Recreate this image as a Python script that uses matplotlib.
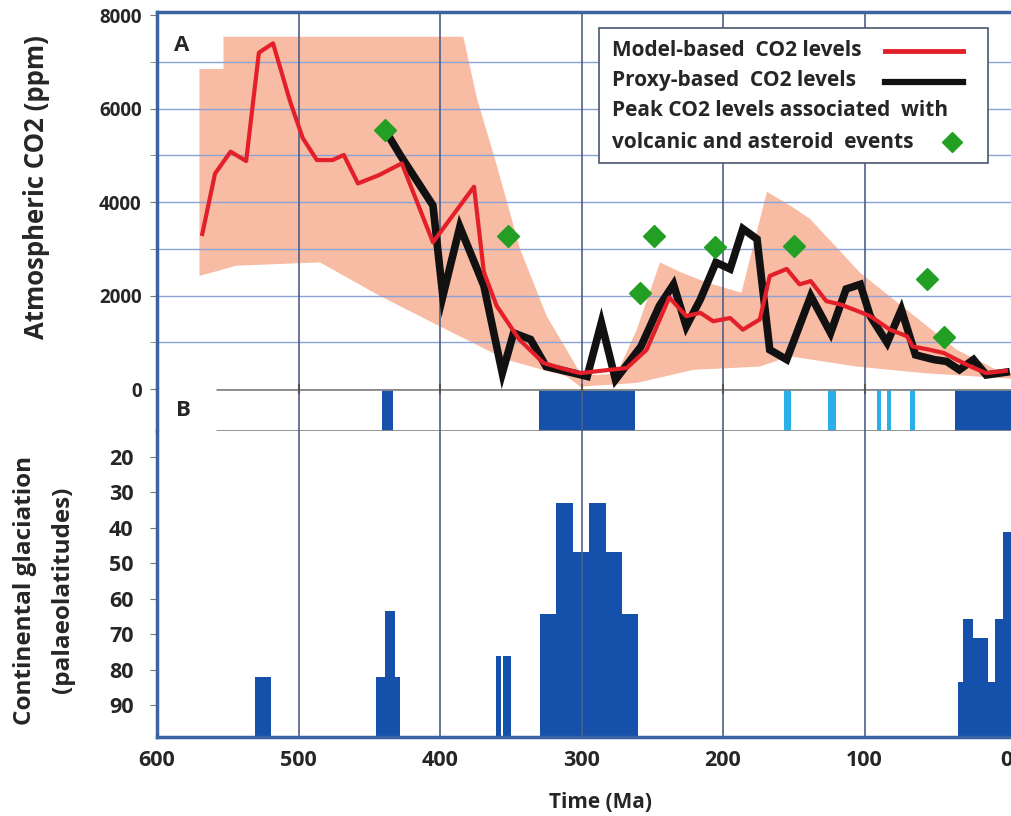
import numpy as np
import matplotlib.pyplot as plt
from matplotlib.patches import Rectangle
from matplotlib.lines import Line2D

plt.rcParams['font.family'] = ['Open Sans', 'DejaVu Sans']
plt.rcParams['font.weight'] = 'bold'

# model-based CO2 (red line)
model_age = [568, 559, 548, 537, 528, 518, 506, 497, 487, 476, 468, 458, 443, 427,
             405, 376, 369, 360, 344, 327, 315, 301, 292, 268, 254, 238, 226, 216,
             207, 195, 186, 174, 167, 155, 146, 138, 127, 117, 105, 96, 82, 70, 66,
             54, 44, 35, 25, 14, 0]
model_co2 = [3320, 4610, 5080, 4880, 7200, 7400, 6160, 5370, 4900, 4900, 5010, 4400, 4580, 4830,
             3140, 4330, 2500, 1780, 1060, 560, 450, 340, 370, 450, 840, 1960, 1560, 1630,
             1450, 1520, 1270, 1490, 2420, 2570, 2240, 2310, 1880, 1810, 1670, 1560, 1270, 1130, 910,
             840, 770, 630, 480, 340, 390]

# proxy-based CO2 (black line)
proxy_age = [439, 428, 405, 398, 386, 369, 356, 348, 336, 325, 315, 296, 286, 276, 258,
             245, 235, 226, 216, 205, 195, 186, 176, 167, 155, 138, 124, 113, 103, 96,
             84, 74, 64, 51, 42, 33, 23, 14, 0]
proxy_co2 = [5550, 5000, 3930, 1990, 3470, 2210, 340, 1200, 1060, 480, 410, 270, 1420, 200, 910,
             1780, 2240, 1340, 1920, 2710, 2570, 3430, 3210, 840, 630, 1990, 1200, 2140, 2240, 1560,
             990, 1700, 730, 630, 590, 410, 630, 300, 360]

# peak CO2 events (green diamonds)
event_age = [439, 352, 259, 249, 206, 150, 56, 44]
event_co2 = [5550, 3285, 2060, 3285, 3030, 3070, 2350, 1110]

# uncertainty envelope
env_up_age = [570, 553, 553, 383.5, 374, 360, 343.5, 324.6, 310.5, 301, 290, 275, 261, 244.5,
              230, 211.5, 187, 169, 152.7, 138.5, 103.2, 34.8, 6.6, -4.5]
env_up_co2 = [6850, 6850, 7540, 7540, 6230, 4800, 3000, 1560, 840, 340, 300, 330, 1270, 2710,
              2500, 2280, 2060, 4220, 3930, 3640, 2490, 840, 410, 330]
env_lo_age = [570, 543.7, 484.8, 442.4, 400, 352.9, 310.5, 301, 261, 221, 174, 152.7, 105.5,
              58.4, 6.6, -4.5]
env_lo_co2 = [2420, 2640, 2710, 1990, 1340, 625, 270, 50, 130, 410, 480, 700, 480, 340, 240, 220]

# panel B strip: glacial intervals
strip_dark_start = [441, 330, 36]
strip_dark_end = [433, 262, -5]
strip_light_start = [157, 126, 91.5, 84.4, 68]
strip_light_end = [152, 120, 88.7, 81.6, 64.5]

# continental glaciation extent (palaeolatitude reached)
glac_start = [530.5, 445, 439, 432, 360.5, 355.3, 329.3, 318, 305.7, 295, 282.8, 271.4,
              34.3, 30.3, 23.2, 12.6, 7.8, 2.3]
glac_end = [519.6, 439, 432, 428, 357.2, 349.9, 318, 305.7, 295, 282.8, 271.4, 260.3,
            30.3, 23.2, 12.6, 7.8, 2.3, -5]
glac_lat = [82, 82, 63.5, 82, 76.2, 76.2, 64.2, 33, 46.8, 33, 46.8, 64.2,
            83.4, 65.8, 71.2, 83.4, 65.8, 41.1]

x_ticks = [600, 500, 400, 300, 200, 100, 0]
grid_ages = [500, 400, 300, 200, 100]
lat_ticks = [20, 30, 40, 50, 60, 70, 80, 90]

spine_col = '#3b64a3'
grid_col = '#4f5f86'
hgrid_col = '#8aa3d4'
bar_col = '#1551aa'
light_col = '#2ab0e8'
txt_col = '#262626'
xlim = (600, -4.2)

fig = plt.figure(figsize=(10.12, 8.16), dpi=100)
L, W = 157 / 1012, 855 / 1012
axA = fig.add_axes([L, 1 - 389 / 816, W, 377 / 816])
axS = fig.add_axes([L, 1 - 431 / 816, W, 42 / 816])
axB = fig.add_axes([L, 1 - 737 / 816, W, 306 / 816])

for ax in (axA, axS, axB):
    ax.set_xlim(*xlim)
    for s in ax.spines.values():
        s.set_visible(False)
    ax.spines['left'].set_visible(True)
    ax.spines['left'].set_color(spine_col)
    ax.spines['left'].set_linewidth(2.5)
    for g in grid_ages:
        ax.axvline(g, color=grid_col, lw=1.2, zorder=4)
    ax.tick_params(axis='x', length=0, labelbottom=False)

# ---- panel A
axA.spines['top'].set_visible(True)
axA.spines['top'].set_color(spine_col)
axA.spines['top'].set_linewidth(2.5)
axA.set_ylim(0, 8070)
axA.fill(env_up_age + env_lo_age[::-1], env_up_co2 + env_lo_co2[::-1],
         color='#f8bba4', lw=0, zorder=1)
for v in range(1000, 8000, 1000):
    axA.axhline(v, color=hgrid_col, lw=1, zorder=2)
axA.plot(proxy_age, proxy_co2, color='#111111', lw=5.5, solid_joinstyle='miter', zorder=5)
axA.plot(model_age, model_co2, color='#e3202a', lw=3, zorder=6)
axA.plot(event_age, event_co2, ls='none', marker='D', ms=11, color='#23a023', zorder=7)
axA.set_yticks([0, 2000, 4000, 6000, 8000])
axA.set_yticks([1000, 3000, 5000, 7000], minor=True)
axA.tick_params(axis='y', which='both', direction='out', length=5, color='#777777',
                labelsize=13.5, labelcolor=txt_col, pad=6)
axA.text(0.02, 0.91, 'A', transform=axA.transAxes, fontsize=16, color=txt_col, va='center')

# legend box drawn by hand
axA.add_patch(Rectangle((0.517, 0.60), 0.455, 0.358, transform=axA.transAxes,
                        facecolor='white', edgecolor='#4a5670', lw=1.2, zorder=8))
leg_y = [0.899, 0.817, 0.740, 0.655]
leg_txt = ['Model-based  CO2 levels', 'Proxy-based  CO2 levels',
           'Peak CO2 levels associated  with', 'volcanic and asteroid  events']
for yy, t in zip(leg_y, leg_txt):
    axA.text(0.532, yy, t, transform=axA.transAxes, fontsize=15, color=txt_col,
             va='center', zorder=9)
axA.add_line(Line2D([0.852, 0.943], [0.897, 0.897], transform=axA.transAxes,
                    color='#e3202a', lw=3.5, zorder=9))
axA.add_line(Line2D([0.852, 0.943], [0.815, 0.815], transform=axA.transAxes,
                    color='#111111', lw=4.5, zorder=9))
axA.add_line(Line2D([0.930], [0.655], transform=axA.transAxes, ls='none',
                    marker='D', ms=10, color='#23a023', zorder=9))

# ---- panel B strip
axS.set_ylim(0, 1)
axS.set_yticks([])
for s, e in zip(strip_dark_start, strip_dark_end):
    axS.bar(s, 1, width=e - s, bottom=0, align='edge', color=bar_col, lw=0, zorder=2)
for s, e in zip(strip_light_start, strip_light_end):
    axS.bar(s, 1, width=e - s, bottom=0, align='edge', color=light_col, lw=0, zorder=2)
axS.hlines([0, 1], 558, xlim[1], color='#8a8a8a', lw=2, zorder=3)
axS.plot(grid_ages, [1] * len(grid_ages), ls='none', marker='|', ms=7, mew=1.5,
         color='#555555', zorder=5, clip_on=False)
axS.text(0.022, 0.5, 'B', transform=axS.transAxes, fontsize=16, color=txt_col, va='center')

# ---- glaciation histogram
lat_base = 99
axB.set_ylim(lat_base, 12.7)
for s, e, lat in zip(glac_start, glac_end, glac_lat):
    axB.bar(s, lat_base - lat, width=e - s, bottom=lat, align='edge',
            color=bar_col, lw=0, zorder=2)
axB.spines['bottom'].set_visible(True)
axB.spines['bottom'].set_color(spine_col)
axB.spines['bottom'].set_linewidth(2.5)
axB.set_yticks(lat_ticks)
axB.tick_params(axis='y', direction='out', length=5, color='#777777',
                labelsize=15.5, labelcolor=txt_col, pad=12)
axB.set_xticks(x_ticks)
axB.tick_params(axis='x', length=0, labelbottom=True, labelsize=15.5,
                labelcolor=txt_col, pad=9)

fig.text(0.036, 0.771, 'Atmospheric CO2 (ppm)', rotation=90, ha='center', va='center',
         fontsize=18.5, color=txt_col)
fig.text(0.025, 0.277, 'Continental glaciation', rotation=90, ha='center', va='center',
         fontsize=17.5, color=txt_col)
fig.text(0.062, 0.277, '(palaeolatitudes)', rotation=90, ha='center', va='center',
         fontsize=17.5, color=txt_col)
fig.text(0.593, 0.016, 'Time (Ma)', ha='center', va='center', fontsize=15, color=txt_col)

fig.savefig('out.png', dpi=100)
